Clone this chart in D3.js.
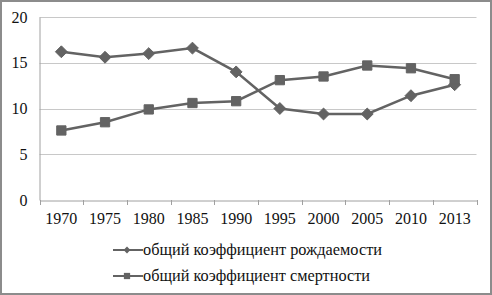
<!DOCTYPE html>
<html><head><meta charset="utf-8">
<script src="https://cdn.jsdelivr.net/npm/d3@7"></script>
<style>
html,body{margin:0;padding:0;background:#fff;}
svg{display:block;}
</style></head>
<body>
<svg id="c" width="492" height="295"></svg>
<script>
const years = ["1970","1975","1980","1985","1990","1995","2000","2005","2010","2013"];
const birthRate = [16.2, 15.6, 16.0, 16.6, 14.0, 10.0, 9.4, 9.4, 11.4, 12.6];
const deathRate = [7.6, 8.5, 9.9, 10.6, 10.8, 13.1, 13.5, 14.7, 14.4, 13.2];
const yTicks = [0, 5, 10, 15, 20];
const seriesNames = ["общий коэффициент рождаемости", "общий коэффициент смертности"];

const svg = d3.select("#c");
const W = 492, H = 295;
const lineColor = "#636363";
const FONT = "'Liberation Serif', 'Times New Roman', serif";

svg.append("rect").attr("x",1).attr("y",1).attr("width",W-2).attr("height",H-2)
  .attr("fill","#fff").attr("stroke","#8c8c8c").attr("stroke-width",2);

const pLeft = 39.5, pRight = 476.5, pTop = 17, pBottom = 200;
const x = d3.scaleBand().domain(years).range([pLeft, pRight]);
const y = d3.scaleLinear().domain([0, 20]).range([pBottom, pTop]);

// gridlines
svg.append("g").selectAll("line").data(yTicks.filter(d => d > 0)).join("line")
  .attr("x1", pLeft).attr("x2", pRight)
  .attr("y1", d => Math.round(y(d)) + 0.5).attr("y2", d => Math.round(y(d)) + 0.5)
  .attr("stroke", "#c8c8c8").attr("stroke-width", 1);

// y axis
const yAxis = svg.append("g").attr("transform", `translate(${pLeft},0)`)
  .call(d3.axisLeft(y).tickValues(yTicks).tickSize(0).tickPadding(12));
yAxis.attr("font-family", null).attr("font-size", null);
yAxis.select(".domain").attr("stroke", "#a0a0a0");
yAxis.selectAll("text").style("font-family", FONT).style("font-size", "16px").attr("fill", "#111");

// x axis
const xAxis = svg.append("g").attr("transform", `translate(0,${pBottom + 0.5})`)
  .call(d3.axisBottom(x).tickSize(0).tickPadding(12));
xAxis.attr("font-family", null).attr("font-size", null);
xAxis.select(".domain").attr("stroke", "#a0a0a0");
xAxis.selectAll("text").style("font-family", FONT).style("font-size", "16px").attr("fill", "#111");
const bounds = years.map(d => x(d)).concat([pRight]);
svg.append("g").selectAll("line").data(bounds).join("line")
  .attr("x1", d => Math.round(d) + 0.5).attr("x2", d => Math.round(d) + 0.5)
  .attr("y1", pBottom).attr("y2", pBottom + 5)
  .attr("stroke", "#a0a0a0");

const cx = d => x(d) + x.bandwidth() / 2;
const line = d3.line().x((d, i) => cx(years[i])).y(d => y(d));

const diamond = d3.symbol().type(d3.symbolDiamond2).size(90);
const square = d3.symbol().type(d3.symbolSquare2).size(110);

function drawSeries(data, sym) {
  svg.append("path").datum(data).attr("d", line)
    .attr("fill", "none").attr("stroke", lineColor).attr("stroke-width", 2.5);
  svg.append("g").selectAll("path").data(data).join("path")
    .attr("transform", (d, i) => `translate(${cx(years[i])},${y(d)})`)
    .attr("d", sym).attr("fill", lineColor).attr("stroke", lineColor).attr("stroke-width", 1);
}
drawSeries(birthRate, diamond);
drawSeries(deathRate, square);

// legend
const ly = [250, 276];
const lw = [239, 227];
const syms = [d3.symbol().type(d3.symbolDiamond2).size(30), d3.symbol().type(d3.symbolSquare2).size(50)];
seriesNames.forEach((name, i) => {
  const g = svg.append("g").attr("transform", `translate(113,${ly[i]})`);
  g.append("line").attr("x1", 0).attr("x2", 30).attr("y1", 0).attr("y2", 0)
    .attr("stroke", lineColor).attr("stroke-width", 2);
  g.append("path").attr("transform", "translate(14,0)").attr("d", syms[i]).attr("fill", lineColor);
  g.append("text").attr("x", 30).attr("y", 5).text(name)
    .style("font-family", FONT).style("font-size", "17px").attr("fill", "#111")
    .attr("textLength", lw[i]).attr("lengthAdjust", "spacingAndGlyphs");
});
</script>
</body></html>
